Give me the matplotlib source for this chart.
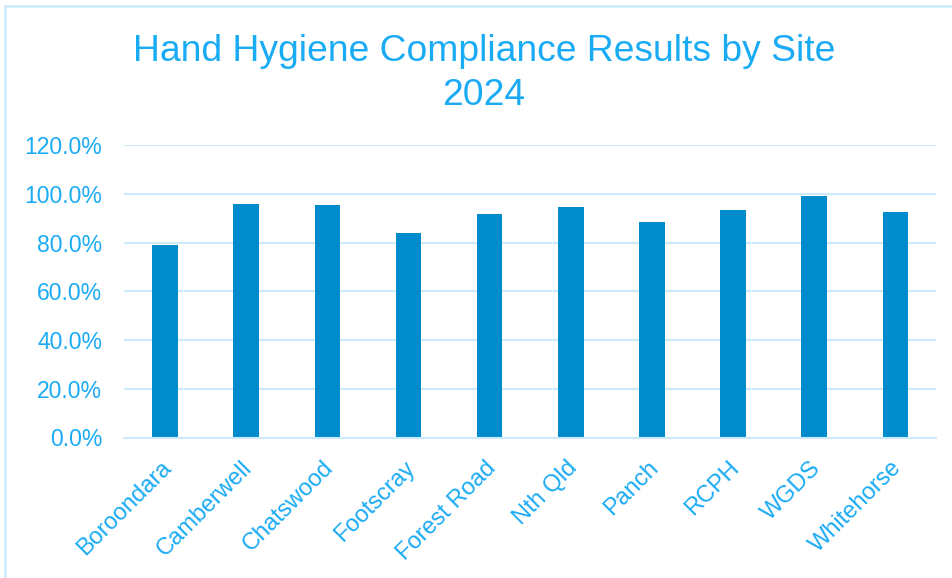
import matplotlib
matplotlib.use("Agg")
import matplotlib.pyplot as plt
from matplotlib.lines import Line2D
from matplotlib.ticker import FuncFormatter
from matplotlib.transforms import ScaledTranslation

sites = ["Boroondara", "Camberwell", "Chatswood", "Footscray", "Forest Road",
         "Nth Qld", "Panch", "RCPH", "WGDS", "Whitehorse"]
compliance = [79.1, 95.9, 95.5, 84.1, 91.7, 94.5, 88.5, 93.3, 99.0, 92.7]
yticks = [0, 20, 40, 60, 80, 100, 120]

W, H = 952, 578
fig = plt.figure(figsize=(W / 100, H / 100), dpi=100)
plt.rcParams['font.family'] = ['Liberation Sans', 'DejaVu Sans']

text_color = "#1aabf5"
grid_color = "#cdeafc"
bar_color = "#008ccc"

# chart border (left and top edges visible)
fig.lines.append(Line2D([5 / W, 5 / W], [0, 1 - 6 / H], transform=fig.transFigure,
                        color=grid_color, linewidth=1.8))
fig.lines.append(Line2D([5 / W, 1], [1 - 6 / H, 1 - 6 / H], transform=fig.transFigure,
                        color=grid_color, linewidth=1.8))

left, right = 124.4 / W, 936 / W
bottom, top = 1 - 437.5 / H, 1 - 145.3 / H
ax = fig.add_axes([left, bottom, right - left, top - bottom])

x = range(len(sites))
ax.bar(x, compliance, width=0.315, color=bar_color, zorder=3)
ax.set_xlim(-0.5, len(sites) - 0.5)
ax.set_ylim(0, 120)
ax.set_yticks(yticks)
ax.yaxis.set_major_formatter(FuncFormatter(lambda v, p: f"{v:.1f}%"))
ax.grid(axis='y', color=grid_color, linewidth=1.5, zorder=0)
for s in ["top", "right", "left"]:
    ax.spines[s].set_visible(False)
ax.spines["bottom"].set_color(grid_color)
ax.spines["bottom"].set_linewidth(1.5)
ax.spines["bottom"].set_zorder(4)
ax.tick_params(axis='both', length=0, colors=text_color, labelsize=16.5)
ax.tick_params(axis='x', labelsize=17)
ax.tick_params(axis='y', pad=16)
ax.set_xticks(list(x))
ax.set_xticklabels(sites, rotation=45, ha='right', rotation_mode='anchor')
ax.tick_params(axis='x', pad=14)
offset = ScaledTranslation(-5 / 100, 0, fig.dpi_scale_trans)
for lab in ax.get_xticklabels():
    lab.set_transform(lab.get_transform() + offset)

fig.text(484 / W, 1 - 61 / H, "Hand Hygiene Compliance Results by Site",
         ha='center', va='baseline', color=text_color, fontsize=26.8)
fig.text(484 / W, 1 - 105 / H, "2024",
         ha='center', va='baseline', color=text_color, fontsize=26.8)

fig.savefig("out.png", dpi=100)
